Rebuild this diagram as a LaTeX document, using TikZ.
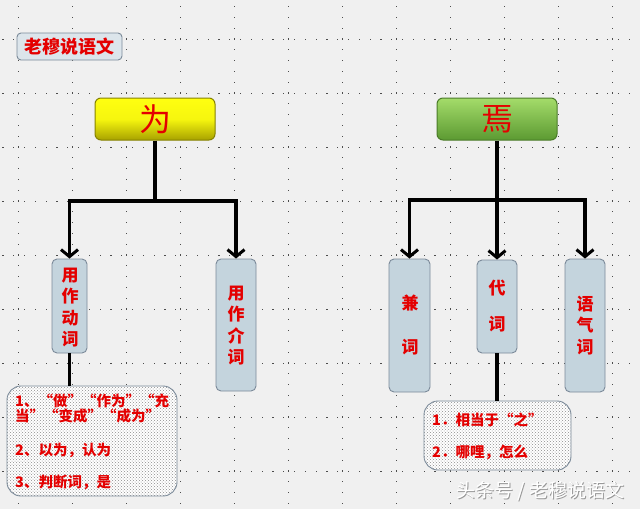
\documentclass[tikz,border=0pt]{standalone}
\usepackage{fontspec}
\newfontfamily\cjk{Noto Sans CJK SC}
\usetikzlibrary{arrows.meta,patterns}
\definecolor{bg}{HTML}{F0F0F0}
\definecolor{txtred}{HTML}{E40000}
\definecolor{boxfill}{HTML}{C4D4DD}
\definecolor{boxline}{HTML}{7B8A99}
\definecolor{ylwtop}{HTML}{FFFF10}
\definecolor{ylwbot}{HTML}{A8A200}
\definecolor{grntop}{HTML}{A4DC6A}
\definecolor{grnbot}{HTML}{5C9A32}
\tikzset{
  dotc/.style={fill=black!70},
  headbox/.style={draw=#1, line width=1pt, rounded corners=6pt, minimum width=120pt, minimum height=42pt, inner sep=0pt},
  vbox/.style={draw=boxline, fill=boxfill, line width=0.9pt, rounded corners=5pt, inner sep=0pt},
  vtxt/.style={text=txtred, font=\cjk\bfseries\fontsize{17}{21.6}\selectfont, align=center, inner sep=0pt},
  notebox/.style={draw=boxline, line width=0.9pt, rounded corners=14pt, inner sep=0pt,
     preaction={fill=white}, pattern=crosshatch dots, pattern color=black!45},
  notetxt/.style={text=txtred, font=\cjk\bfseries\fontsize{14.5}{15}\selectfont, anchor=west, inner sep=0pt, align=left},
  conn/.style={line width=3.6pt, black},
  arr/.style={line width=3.6pt, black, -{Straight Barb[length=7pt,width=17pt,line width=3pt]}},
}
\begin{document}
\begin{tikzpicture}[x=1pt,y=-1pt]
\useasboundingbox (0,0) rectangle (640,509);
\fill[bg] (0,0) rectangle (640,509);
% dotted grid
\foreach \r in {39,93,147,201,255,309,363,417,471}{
  \foreach \i in {0,...,59}{
    \fill[dotc] ({\i*10.8+2.4},\r) rectangle ++(1.1,1.1);
  }
}
\foreach \c in {18,72,126,180,234,288,342,396,450,504,558,612}{
  \foreach \j in {0,...,47}{
    \fill[dotc] (\c,{\j*10.8+6}) rectangle ++(1.1,1.1);
  }
}
% title
\node[draw=boxline, line width=0.9pt, rounded corners=4pt, fill=boxfill!60, minimum width=105pt, minimum height=27pt, inner sep=0pt,
      text=txtred, font=\cjk\bfseries\fontsize{18}{18}\selectfont] (title) at (69.5,46.5) {老穆说语文};
% head boxes
\node[headbox=ylwbot!80!black, top color=ylwtop, bottom color=ylwbot, middle color=ylwtop!90!ylwbot] (wei) at (155,119) {};
\node[text=txtred, font=\cjk\fontsize{32}{32}\selectfont] (weit) at (wei.center) {为};
\node[headbox=grnbot!80!black, top color=grntop, bottom color=grnbot] (yan) at (497,119) {};
\node[text=txtred, font=\cjk\fontsize{32}{32}\selectfont] (yant) at (yan.center) {焉};
% vertical boxes
\node[vbox, minimum width=35pt, minimum height=94pt] (v1) at (69.5,306) {};
\node[vtxt] (v1t) at (70,307.5) {用\\作\\动\\词};
\node[vbox, minimum width=40pt, minimum height=132pt] (v2) at (236,325) {};
\node[vtxt] (v2t) at (236,325.5) {用\\作\\介\\词};
\node[vbox, minimum width=41pt, minimum height=133pt] (y1) at (409.5,325.5) {};
\node[vtxt, font=\cjk\bfseries\fontsize{17}{44}\selectfont] (y1t) at (410,325) {兼\\词};
\node[vbox, minimum width=40pt, minimum height=93pt] (y2) at (497,306.5) {};
\node[vtxt, font=\cjk\bfseries\fontsize{17}{36}\selectfont] (y2t) at (497,306) {代\\词};
\node[vbox, minimum width=40pt, minimum height=133pt] (y3) at (585,325.5) {};
\node[vtxt] (y3t) at (585,325.5) {语\\气\\词};
% note boxes
\node[notebox, minimum width=170pt, minimum height=110pt] (n1) at (92,441) {};
\node[notetxt] (n1a) at (15,409) {1、“做”“作为”“充\\当”“变成”“成为”};
\node[notetxt] (n1b) at (15,450) {2、以为，认为};
\node[notetxt] (n1c) at (15,482) {3、判断词，是};
\node[notebox, minimum width=147pt, minimum height=69pt] (n2) at (497.5,435.5) {};
\node[notetxt] (n2a) at (432,420) {1．相当于“之”};
\node[notetxt] (n2b) at (432,452) {2．哪哩，怎么};
% connectors
\coordinate (barL) at (0,201);
\coordinate (barR) at (0,200);
\draw[conn] (wei.south) -- (wei.south |- barL);
\draw[arr] (wei.south |- barL) -| (v1.north);
\draw[arr] (wei.south |- barL) -| (v2.north);
\draw[conn] (yan.south) -- (yan.south |- barR);
\draw[arr] (yan.south |- barR) -| (y1.north);
\draw[arr] (yan.south |- barR) -- (y2.north);
\draw[arr] (yan.south |- barR) -| (y3.north);
\draw[conn] (v1.south) -- (v1.south |- n1.north);
\draw[conn] (y2.south) -- (y2.south |- n2.north);
% watermark
\node[text=black!40, font=\cjk\fontsize{19}{19}\selectfont, anchor=east] (wm0) at (628.8,491.8) {头条号 / 老穆说语文};
\node[text=white, font=\cjk\fontsize{19}{19}\selectfont, anchor=east] (wm) at (628,491) {头条号 / 老穆说语文};
\end{tikzpicture}
\end{document}
